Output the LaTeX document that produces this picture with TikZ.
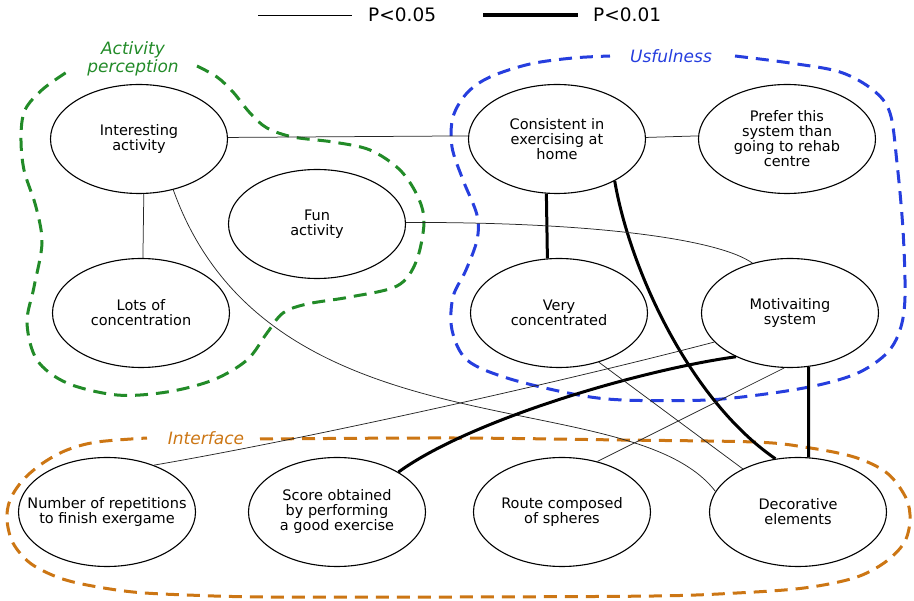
\documentclass[tikz,border=0pt]{standalone}
\usepackage{fontspec}
\setmainfont{DejaVu Sans}
\usetikzlibrary{shapes.geometric}
\definecolor{grpgreen}{RGB}{34,139,40}
\definecolor{grpblue}{RGB}{38,62,222}
\definecolor{grporange}{RGB}{204,118,20}
\begin{document}
\begin{tikzpicture}[x=1pt,y=-1pt,
  ell/.style={draw=black, fill=white, line width=1.1pt, ellipse,
    minimum width=177pt, minimum height=109pt, inner sep=0pt},
  txt/.style={align=center, font=\fontsize{14.5}{15}\selectfont, inner sep=0pt},
  weak/.style={line width=0.75pt, draw=black!85},
  strong/.style={line width=3pt, draw=black},
  grp/.style={line width=3pt, dash pattern=on 13pt off 8pt},
  grplabel/.style={font=\fontsize{17}{16}\selectfont\itshape, align=center, inner sep=0pt},
  legtext/.style={font=\fontsize{18.5}{20}\selectfont, inner sep=0pt, anchor=west},
]
\useasboundingbox (0,0) rectangle (914,601);

% legend
\coordinate (la) at (258,15);
\coordinate (lb) at (352,15);
\coordinate (lc1) at (483,15);
\coordinate (ld) at (578,15);
\draw[line width=0.9pt] (la) -- (lb);
\node[legtext] (lt1) at (368,15) {P<0.05};
\draw[line width=3.5pt] (lc1) -- (ld);
\node[legtext] (lt2) at (593,15) {P<0.01};

% group outlines
\draw[grp, grpgreen] plot[smooth, tension=0.55] coordinates {
  (197,66) (217,77) (233,92) (250,113) (267,128) (293,137) (333,142)
  (370,150) (400,170) (418,197) (424,223) (416,262) (397,286) (350,297)
  (307,304) (283,313) (267,333) (247,360) (213,380) (167,392) (117,395)
  (67,383) (37,360) (27,323) (34,287) (42,243) (36,207) (24,170)
  (21,137) (25,110) (43,89) (70,70)};
\node[grplabel, text=grpgreen] (gap) at (133,59) {Activity\\perception};

\draw[grp, grpblue] plot[smooth, tension=0.55] coordinates {
  (735,56) (790,63) (840,72) (873,90) (890,113) (897,163) (903,230)
  (905,297) (900,330) (887,353) (860,372) (823,384) (773,393) (707,400)
  (623,400) (573,394) (507,378) (467,360) (452,330) (453,297) (466,270)
  (477,240) (477,215) (463,180) (452,147) (453,117) (467,93) (490,77)
  (530,64) (573,58) (610,56)};
\node[grplabel, text=grpblue] (gus) at (671,56) {Usfulness};

\draw[grp, grporange] plot[smooth, tension=0.55] coordinates {
  (260,439) (454,438) (621,440) (754,442) (804,447) (854,457) (887,473)
  (906,498) (910,520) (904,543) (884,563) (854,578) (804,588) (737,593)
  (654,596) (454,597) (267,597) (187,595) (133,592) (87,585) (57,577)
  (30,563) (13,543) (7,520) (10,500) (23,480) (43,463) (67,450)
  (97,442) (147,438)};
\node[grplabel, text=grporange] (gif) at (206,438) {Interface};

% factors
\node[ell, label={[txt]center:Interesting\\activity}] (ia) at (139,139) {};
\node[ell, label={[txt]center:Lots of\\concentration}] (lc) at (141,313) {};
\node[ell, label={[txt]center:Fun\\activity}] (fa) at (317,224) {};
\node[ell, label={[txt]center:Consistent in\\exercising at\\home}] (ch) at (557,139) {};
\node[ell, label={[txt]center:Prefer this\\system than\\going to rehab\\centre}] (pr) at (787,139) {};
\node[ell, label={[txt]center:Very\\concentrated}] (vc) at (559,313) {};
\node[ell, label={[txt]center:Motivaiting\\system}] (ms) at (790,313) {};
\node[ell, label={[txt]center:Number of repetitions\\to finish exergame}] (nr) at (107,512) {};
\node[ell, label={[txt]center:Score obtained\\by performing\\a good exercise}] (so) at (337,512) {};
\node[ell, label={[txt]center:Route composed\\of spheres}] (rc) at (562,512) {};
\node[ell, label={[txt]center:Decorative\\elements}] (de) at (798,512) {};

% correlations
\draw[weak] (ia.1.9) -- (ch.178.1);
\draw[weak] (ch.1.9) -- (pr.178.1);
\draw[weak] (ia.-85.8) -- (lc.88.4);
\draw[strong] (ch.-101) -- (vc.102.5);
\draw[strong] (ch.-36.2) .. controls (630,270) and (690,400) .. (de.113);
\draw[weak] (fa.1.3) .. controls (600,222) and (720,240) .. (ms.127.8);
\draw[weak] (ia.-56.3) .. controls (270,460) and (630,380) .. (de.166.6);
\draw[strong] (ms.219.1) .. controls (640,370) and (470,420) .. (so.33.7);
\draw[weak] (ms.201.7) .. controls (550,385) and (300,440) .. (nr.45.6);
\draw[weak] (ms.264.8) -- (rc.55);
\draw[weak] (vc.-51.5) -- (de.142.5);
\draw[strong] (ms.-71.4) -- (de.79.5);
\end{tikzpicture}
\end{document}
